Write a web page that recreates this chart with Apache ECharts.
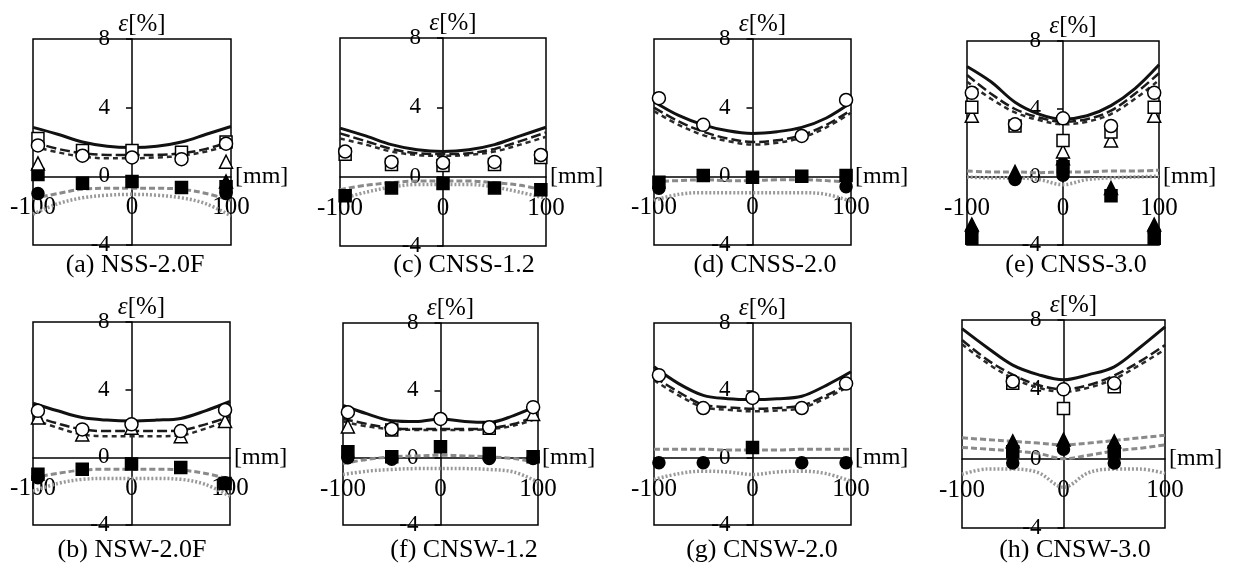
<!DOCTYPE html>
<html><head><meta charset="utf-8">
<script src="https://cdn.jsdelivr.net/npm/echarts@6/dist/echarts.min.js"></script>
<style>html,body{margin:0;padding:0;background:#fff}#c{width:1234px;height:570px}</style>
</head><body><div id="c"></div>
<script>
// ---------- shared axes / tick values ----------
const xLine = [-100, -75, -50, -25, 0, 25, 50, 75, 100];
const xPts = [-95, -50, 0, 50, 95];
const yTicks = [-4, 0, 4, 8];
const xTicks = [-100, 0, 100];
const captions = ['(a) NSS-2.0F', '(c) CNSS-1.2', '(d) CNSS-2.0', '(e) CNSS-3.0',
                  '(b) NSW-2.0F', '(f) CNSW-1.2', '(g) CNSW-2.0', '(h) CNSW-3.0'];

// ---------- (a) NSS-2.0F ----------
const a_solid = [2.85, 2.45, 2.0, 1.75, 1.68, 1.75, 2.0, 2.45, 2.9];
const a_dash1 = [2.0, 1.6, 1.35, 1.25, 1.25, 1.25, 1.35, 1.6, 2.05];
const a_dash2 = [1.75, 1.4, 1.15, 1.05, 1.05, 1.1, 1.2, 1.45, 1.85];
const a_grayDash = [-1.3, -1.0, -0.75, -0.7, -0.7, -0.7, -0.75, -1.0, -1.4];
const a_grayDot = [-2.2, -1.6, -1.25, -1.1, -1.05, -1.1, -1.25, -1.6, -2.3];
const a_oCircle = [1.8, 1.2, 1.1, 1.0, 1.9];
const a_oSquare = [2.2, 1.5, 1.5, 1.4, 2.0];
const a_oTri = [0.75, null, null, null, 0.85];
const a_fSquare = [0.1, -0.4, -0.3, -0.65, -0.6];
const a_fCircle = [-1.0, null, null, null, -1.0];
const a_fTri = [null, null, null, null, -0.3];

// ---------- (c) CNSS-1.2 ----------
const c_solid = [2.8, 2.35, 1.85, 1.55, 1.45, 1.55, 1.85, 2.35, 2.85];
const c_dash1 = [2.5, 2.05, 1.6, 1.35, 1.3, 1.35, 1.6, 2.05, 2.55];
const c_dash2 = [2.2, 1.85, 1.45, 1.25, 1.2, 1.25, 1.45, 1.85, 2.3];
const c_grayDash = [-0.75, -0.5, -0.35, -0.25, -0.25, -0.25, -0.35, -0.5, -0.8];
const c_grayDot = [-1.3, -0.9, -0.6, -0.45, -0.45, -0.45, -0.6, -0.9, -1.25];
const c_oCircle = [1.45, 0.85, 0.8, 0.85, 1.25];
const c_oSquare = [1.3, 0.7, 0.65, 0.7, 1.1];
const c_oTri = [null, null, null, null, null];
const c_fSquare = [-1.1, -0.65, -0.4, -0.65, -0.75];
const c_fCircle = [null, null, null, null, null];
const c_fTri = [null, null, null, null, null];

// ---------- (d) CNSS-2.0 ----------
const d_solid = [4.35, 3.55, 3.0, 2.65, 2.5, 2.6, 2.85, 3.4, 4.3];
const d_dash1 = [4.0, 3.2, 2.6, 2.2, 2.0, 2.1, 2.4, 3.0, 3.85];
const d_dash2 = [3.8, 3.0, 2.4, 2.05, 1.85, 1.95, 2.25, 2.85, 3.7];
const d_grayDash = [-0.3, -0.25, -0.2, -0.25, -0.25, -0.2, -0.2, -0.25, -0.35];
const d_grayDot = [-1.4, -1.05, -0.95, -0.95, -0.95, -0.95, -0.95, -1.05, -1.45];
const d_oCircle = [4.55, 3.0, null, 2.35, 4.45];
const d_oSquare = [null, null, null, null, null];
const d_oTri = [null, null, null, null, null];
const d_fSquare = [-0.35, 0.05, -0.05, 0.0, 0.05];
const d_fCircle = [-0.7, null, null, null, -0.6];
const d_fTri = [null, null, null, null, null];

// ---------- (e) CNSS-3.0 ----------
const e_solid = [6.5, 5.6, 4.4, 3.7, 3.4, 3.6, 4.2, 5.2, 6.6];
const e_dash1 = [6.0, 4.9, 4.0, 3.5, 3.25, 3.4, 3.9, 4.9, 6.1];
const e_dash2 = [5.6, 4.6, 3.8, 3.35, 3.1, 3.25, 3.7, 4.6, 5.7];
const e_grayDash = [0.35, 0.3, 0.3, 0.25, 0.3, 0.3, 0.35, 0.35, 0.4];
const e_grayDot = [0.0, -0.05, -0.05, -0.15, -0.45, -0.15, -0.05, 0.0, 0.05];
const e_oCircle = [4.95, 3.1, 3.45, 3.0, 4.95];
const e_oSquare = [4.1, 3.0, 2.15, 2.65, 4.1];
const e_oTri = [3.6, null, 1.5, 2.15, 3.6];
const e_fSquare = [-3.6, null, 0.6, -1.1, -3.6];
const e_fCircle = [-3.2, -0.15, 0.1, null, -3.2];
const e_fTri = [-2.8, 0.3, 1.1, -0.65, -2.8];

// ---------- (b) NSW-2.0F ----------
const b_solid = [3.2, 2.75, 2.35, 2.2, 2.15, 2.2, 2.3, 2.75, 3.3];
const b_dash1 = [2.45, 2.0, 1.65, 1.55, 1.55, 1.55, 1.6, 1.95, 2.4];
const b_dash2 = [2.25, 1.75, 1.35, 1.25, 1.25, 1.25, 1.3, 1.7, 2.2];
const b_grayDash = [-1.2, -0.95, -0.75, -0.7, -0.7, -0.7, -0.75, -0.95, -1.3];
const b_grayDot = [-2.0, -1.55, -1.3, -1.25, -1.25, -1.25, -1.3, -1.6, -2.3];
const b_oCircle = [2.75, 1.65, 1.95, 1.55, 2.8];
const b_oSquare = [null, null, null, null, null];
const b_oTri = [2.35, 1.35, 1.75, 1.25, 2.15];
const b_fSquare = [-1.0, -0.7, -0.4, -0.6, -1.55];
const b_fCircle = [-1.2, null, null, null, -1.5];
const b_fTri = [null, null, null, null, null];

// ---------- (f) CNSW-1.2 ----------
const f_solid = [3.1, 2.6, 2.2, 2.15, 2.3, 2.15, 2.1, 2.5, 3.1];
const f_dash1 = [2.3, 2.0, 1.75, 1.7, 1.7, 1.7, 1.75, 2.0, 2.5];
const f_dash2 = [2.15, 1.85, 1.7, 1.65, 1.65, 1.65, 1.7, 1.9, 2.35];
const f_grayDash = [-0.35, -0.1, 0.05, 0.1, 0.15, 0.1, 0.05, -0.05, -0.3];
const f_grayDot = [-1.0, -0.8, -0.7, -0.65, -0.65, -0.65, -0.7, -0.85, -1.45];
const f_oCircle = [2.7, 1.7, 2.3, 1.8, 3.0];
const f_oSquare = [null, 1.65, null, 1.75, null];
const f_oTri = [1.85, null, null, null, 2.6];
const f_fSquare = [0.35, 0.05, 0.65, 0.25, 0.05];
const f_fCircle = [0.0, -0.1, null, -0.05, -0.05];
const f_fTri = [null, null, null, null, null];

// ---------- (g) CNSW-2.0 ----------
const g_solid = [5.4, 4.4, 3.7, 3.5, 3.45, 3.5, 3.65, 4.3, 5.1];
const g_dash1 = [4.8, 3.9, 3.15, 3.0, 2.9, 2.95, 3.1, 3.7, 4.45];
const g_dash2 = [4.6, 3.7, 3.0, 2.85, 2.75, 2.8, 2.95, 3.55, 4.3];
const g_grayDash = [0.5, 0.5, 0.5, 0.45, 0.45, 0.45, 0.5, 0.5, 0.5];
const g_grayDot = [-1.3, -0.95, -0.8, -0.85, -1.0, -0.85, -0.8, -0.95, -1.4];
const g_oCircle = [4.9, 2.95, 3.55, 2.95, 4.4];
const g_oSquare = [null, null, null, null, null];
const g_oTri = [null, null, null, null, null];
const g_fSquare = [null, null, 0.6, null, null];
const g_fCircle = [-0.3, -0.3, null, -0.3, -0.3];
const g_fTri = [null, null, null, null, null];

// ---------- (h) CNSW-3.0 ----------
const h_solid = [7.5, 6.4, 5.4, 4.85, 4.55, 4.85, 5.3, 6.4, 7.6];
const h_dash1 = [6.85, 5.7, 4.85, 4.25, 4.0, 4.25, 4.8, 5.6, 6.55];
const h_dash2 = [6.6, 5.5, 4.65, 4.1, 3.85, 4.1, 4.6, 5.4, 6.3];
const h_grayDash = [1.2, 1.1, 1.0, 0.9, 0.8, 0.9, 1.05, 1.2, 1.35];
const h_grayDash2 = [0.65, 0.55, 0.45, 0.3, 0.0, 0.2, 0.45, 0.6, 0.8];
const h_grayDot = [-0.9, -0.6, -0.6, -0.8, -1.65, -0.8, -0.6, -0.6, -0.85];
const h_oCircle = [null, 4.45, 4.0, 4.35, null];
const h_oSquare = [null, 4.35, 2.9, 4.15, null];
const h_oTri = [null, null, null, null, null];
const h_fSquare = [null, 0.4, null, 0.4, null];
const h_fCircle = [null, -0.25, 0.55, -0.25, null];
const h_fTri = [null, 1.0, 1.1, 1.0, null];

const panelData = [
  {solid:a_solid, dash1:a_dash1, dash2:a_dash2, grayDash:a_grayDash, grayDot:a_grayDot, oC:a_oCircle, oS:a_oSquare, oT:a_oTri, fS:a_fSquare, fC:a_fCircle, fT:a_fTri},
  {solid:c_solid, dash1:c_dash1, dash2:c_dash2, grayDash:c_grayDash, grayDot:c_grayDot, oC:c_oCircle, oS:c_oSquare, oT:c_oTri, fS:c_fSquare, fC:c_fCircle, fT:c_fTri},
  {solid:d_solid, dash1:d_dash1, dash2:d_dash2, grayDash:d_grayDash, grayDot:d_grayDot, oC:d_oCircle, oS:d_oSquare, oT:d_oTri, fS:d_fSquare, fC:d_fCircle, fT:d_fTri},
  {solid:e_solid, dash1:e_dash1, dash2:e_dash2, grayDash:e_grayDash, grayDot:e_grayDot, oC:e_oCircle, oS:e_oSquare, oT:e_oTri, fS:e_fSquare, fC:e_fCircle, fT:e_fTri},
  {solid:b_solid, dash1:b_dash1, dash2:b_dash2, grayDash:b_grayDash, grayDot:b_grayDot, oC:b_oCircle, oS:b_oSquare, oT:b_oTri, fS:b_fSquare, fC:b_fCircle, fT:b_fTri},
  {solid:f_solid, dash1:f_dash1, dash2:f_dash2, grayDash:f_grayDash, grayDot:f_grayDot, oC:f_oCircle, oS:f_oSquare, oT:f_oTri, fS:f_fSquare, fC:f_fCircle, fT:f_fTri},
  {solid:g_solid, dash1:g_dash1, dash2:g_dash2, grayDash:g_grayDash, grayDot:g_grayDot, oC:g_oCircle, oS:g_oSquare, oT:g_oTri, fS:g_fSquare, fC:g_fCircle, fT:g_fTri},
  {solid:h_solid, dash1:h_dash1, dash2:h_dash2, grayDash:h_grayDash, grayDash2:h_grayDash2, grayDot:h_grayDot, oC:h_oCircle, oS:h_oSquare, oT:h_oTri, fS:h_fSquare, fC:h_fCircle, fT:h_fTri}
];

// ---------- layout (pixels) ----------
const layout = [
  {left:33,  top:39,  width:198, height:206, cx:135,  cy:252},
  {left:340, top:38,  width:206, height:208, cx:464,  cy:252},
  {left:654, top:39,  width:197, height:206, cx:765,  cy:252},
  {left:967, top:41,  width:192, height:204, cx:1076, cy:252},
  {left:33,  top:322, width:197, height:203, cx:132,  cy:537},
  {left:343, top:323, width:195, height:202, cx:464,  cy:537},
  {left:654, top:323, width:197, height:202, cx:762,  cy:537},
  {left:962, top:320, width:203, height:208, cx:1075, cy:537}
];

const FONT = '"Liberation Serif","Times New Roman",serif';
const grids = [], xAxes = [], yAxes = [], series = [], titles = [];

function lineData(arr){ return xLine.map((x,j)=>[x, arr[j]]); }
function ptData(arr){ return xPts.map((x,j)=>[x, arr[j]]).filter(p=>p[1]!==null && p[1]!==undefined); }

const lineStyles = {
  grayDot:  {color:'#999999', width:3.5, type:[2,2]},
  grayDash: {color:'#8a8a8a', width:3, type:[6,3]},
  grayDash2:{color:'#8a8a8a', width:3, type:[6,3]},
  dash2:    {color:'#2a2a2a', width:2.5, type:[5,4]},
  dash1:    {color:'#1a1a1a', width:2.5, type:[10,4]},
  solid:    {color:'#111', width:3}
};
const markers = [
  ['fC','circle',12,'#000'], ['fS','rect',12,'#000'], ['fT','triangle',13,'#000'],
  ['oT','triangle',13,'#fff'], ['oS','rect',12,'#fff'], ['oC','circle',13,'#fff']
];

layout.forEach((L,i)=>{
  grids.push({left:L.left, top:L.top, width:L.width, height:L.height, show:true,
    borderColor:'#000', borderWidth:1.5, backgroundColor:'transparent'});
  // zero of y lies 1/3 up from the bottom; zero of x lies at the middle
  xAxes.push({type:'value', gridIndex:i, min:xTicks[0], max:xTicks[2], interval:100,
    position:'bottom', offset:-(L.height*(0-yTicks[0])/(yTicks[3]-yTicks[0])),
    axisLine:{onZero:false, lineStyle:{color:'#000', width:1.5}},
    axisTick:{show:false}, splitLine:{show:false},
    axisLabel:{margin:19, fontFamily:FONT, fontSize:25, color:'#000', showMinLabel:true, showMaxLabel:true, hideOverlap:false},
    name:'[mm]', nameLocation:'end', nameGap:4,
    nameTextStyle:{fontFamily:FONT, fontSize:24, color:'#000', padding:[0,0,12,0]}
  });
  yAxes.push({type:'value', gridIndex:i, min:yTicks[0], max:yTicks[3], interval:4,
    position:'left', offset:-(L.width/2),
    axisLine:{onZero:false, lineStyle:{color:'#000', width:1.5}},
    axisTick:{show:true, length:6, lineStyle:{color:'#000', width:1.5}},
    splitLine:{show:false},
    axisLabel:{margin:22, fontFamily:FONT, fontSize:23, color:'#000', showMinLabel:true, showMaxLabel:true, hideOverlap:false},
    name:'{e|ε}[%]', nameLocation:'end', nameGap:2,
    nameTextStyle:{fontFamily:FONT, fontSize:25, color:'#000', padding:[0,0,0,20],
      rich:{e:{fontFamily:FONT, fontStyle:'italic', fontSize:25, color:'#000'}}}
  });
  titles.push({text:captions[i], left:L.cx, top:L.cy, textAlign:'center', padding:0,
    textStyle:{fontFamily:FONT, fontSize:26, fontWeight:'normal', color:'#000'}});
  const P = panelData[i];
  ['grayDot','grayDash','grayDash2','dash2','dash1','solid'].forEach(k=>{
    if(!P[k]) return;
    series.push({type:'line', xAxisIndex:i, yAxisIndex:i, data:lineData(P[k]), smooth:0.35,
      symbol:'none', lineStyle:lineStyles[k], z:2, silent:true});
  });
  markers.forEach(([k,sym,sz,fill])=>{
    const d = ptData(P[k]);
    if(!d.length) return;
    series.push({type:'scatter', xAxisIndex:i, yAxisIndex:i, data:d, symbol:sym, symbolSize:sz,
      itemStyle:{color:fill, borderColor:'#000', borderWidth:1.5, opacity:1}, z:4});
  });
});

const chart = echarts.init(document.getElementById('c'), null, {renderer:'canvas'});
chart.setOption({animation:false, backgroundColor:'#fff', title:titles, grid:grids,
  xAxis:xAxes, yAxis:yAxes, series:series});
</script>
</body></html>
